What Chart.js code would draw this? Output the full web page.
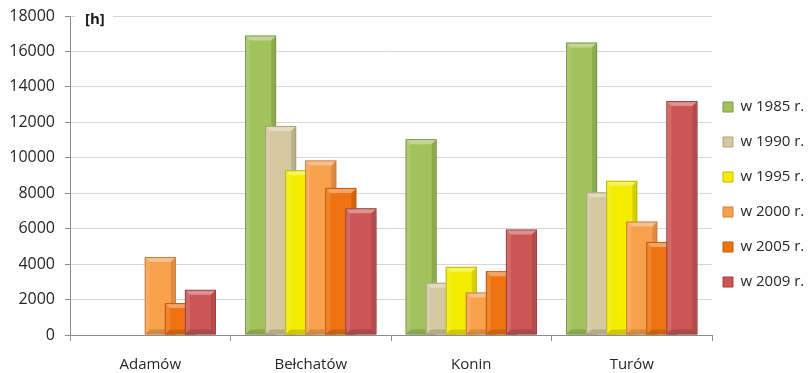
<!DOCTYPE html>
<html>
<head>
<meta charset="utf-8">
<script src="https://cdn.jsdelivr.net/npm/chart.js@4"></script>
<style>
  html, body { margin: 0; padding: 0; background: #fff; }
  #wrap { width: 812px; height: 373px; }
</style>
</head>
<body>
<div id="wrap"><canvas id="hoursChart" width="812" height="373"></canvas></div>
<script>
// mines (categories)
var mines = ['Adamów', 'Bełchatów', 'Konin', 'Turów'];
// series labels
var years = ['w 1985 r.', 'w 1990 r.', 'w 1995 r.', 'w 2000 r.', 'w 2005 r.', 'w 2009 r.'];
// hours per mine, one array per year
var y1985 = [null, 16900, 11050, 16500];
var y1990 = [null, 11800, 2950, 8050];
var y1995 = [null, 9300, 3850, 8700];
var y2000 = [4400, 9850, 2400, 6400];
var y2005 = [1800, 8300, 3600, 5250];
var y2009 = [2550, 7150, 5950, 13200];
var yTicks = [0, 2000, 4000, 6000, 8000, 10000, 12000, 14000, 16000, 18000];

var fills = ['#a2c25c', '#d3c8a0', '#f3ee00', '#f9a04c', '#ef7411', '#cc5656'];
var edges = ['#7f9a44', '#aea47c', '#c2bc00', '#d07e35', '#c05a08', '#a33f3f'];

var seriesData = [y1985, y1990, y1995, y2000, y2005, y2009];

var datasets = seriesData.map(function(vals, i) {
    return {
        label: years[i],
        data: vals,
        backgroundColor: fills[i],
        borderColor: edges[i],
        borderWidth: 1,
        categoryPercentage: 0.75,
        barPercentage: 1.55
    };
});

function drawBevel(ctx, bar, edge) {
    var b = 5;
    var p = bar.getProps(['x', 'y', 'base', 'width'], true);
    var l = p.x - p.width / 2, r = p.x + p.width / 2, t = p.y, bt = p.base;
    ctx.save();
    ctx.fillStyle = 'rgba(255,255,255,0.35)';
    ctx.beginPath();
    ctx.moveTo(l, t); ctx.lineTo(r, t); ctx.lineTo(r - b, t + b); ctx.lineTo(l + b, t + b);
    ctx.closePath(); ctx.fill();
    ctx.fillStyle = 'rgba(255,255,255,0.12)';
    ctx.beginPath();
    ctx.moveTo(l, t); ctx.lineTo(l + b, t + b); ctx.lineTo(l + b, bt - b); ctx.lineTo(l, bt);
    ctx.closePath(); ctx.fill();
    ctx.fillStyle = 'rgba(0,0,0,0.12)';
    ctx.beginPath();
    ctx.moveTo(r, t); ctx.lineTo(r - b, t + b); ctx.lineTo(r - b, bt - b); ctx.lineTo(r, bt);
    ctx.closePath(); ctx.fill();
    ctx.fillStyle = 'rgba(0,0,0,0.15)';
    ctx.beginPath();
    ctx.moveTo(l, bt); ctx.lineTo(l + b, bt - b); ctx.lineTo(r - b, bt - b); ctx.lineTo(r, bt);
    ctx.closePath(); ctx.fill();
    ctx.strokeStyle = edge;
    ctx.lineWidth = 1;
    ctx.strokeRect(l + 0.5, t + 0.5, r - l - 1, bt - t - 1);
    ctx.restore();
}

// draw datasets in index order so later years overlap earlier ones, with bevel
var bevelPlugin = {
    id: 'bevel',
    afterInit: function(chart) {
        var lg = chart.legend;
        var origFit = lg.fit;
        var origDraw = lg.draw;
        lg.fit = function() {
            origFit.call(this);
            this.width = 100;
        };
        // nudge the legend block a little left
        lg.draw = function() {
            this.left -= 9;
            origDraw.apply(this, arguments);
            this.left += 9;
        };
    },
    beforeDatasetsDraw: function(chart) {
        var ctx = chart.ctx;
        var area = chart.chartArea;
        ctx.save();
        ctx.beginPath();
        ctx.rect(area.left, area.top - 2, area.right - area.left, area.bottom - area.top + 2);
        ctx.clip();
        chart.data.datasets.forEach(function(ds, i) {
            var meta = chart.getDatasetMeta(i);
            meta.data.forEach(function(bar, j) {
                if (ds.data[j] === null) return;
                bar.draw(ctx);
                drawBevel(ctx, bar, edges[i]);
            });
        });
        ctx.restore();
        return false;
    }
};

// unit label "[h]" on top of the y axis
var unitPlugin = {
    id: 'unitLabel',
    afterDraw: function(chart) {
        var ctx = chart.ctx;
        var area = chart.chartArea;
        ctx.save();
        ctx.fillStyle = '#fff';
        ctx.fillRect(area.left + 5, area.top - 2, 38, 5);
        ctx.font = 'bold 15px "Open Sans", sans-serif';
        ctx.fillStyle = '#1a1a1a';
        ctx.textBaseline = 'middle';
        ctx.fillText('[h]', area.left + 15, area.top + 4);
        ctx.restore();
    }
};

var ctx = document.getElementById('hoursChart').getContext('2d');

var hoursChart = new Chart(ctx, {
    type: 'bar',
    data: {
        labels: mines,
        datasets: datasets
    },
    options: {
        responsive: false,
        animation: false,
        layout: { padding: { top: 16, right: 0, left: 0, bottom: 0 } },
        scales: {
            x: {
                afterFit: function(scale) { scale.height = 38; },
                grid: { drawOnChartArea: false, color: '#8c8c8c', tickLength: 6 },
                border: { color: '#8c8c8c' },
                ticks: { color: '#262626', font: { family: 'Open Sans', size: 15 }, padding: 15 }
            },
            y: {
                min: 0,
                max: 18000,
                afterBuildTicks: function(scale) {
                    scale.ticks = yTicks.map(function(v) { return { value: v }; });
                },
                afterFit: function(scale) {
                    scale.width = 70;
                    scale.paddingTop = 8;
                },
                grid: { color: '#d6d6d6', tickLength: 5, tickColor: '#8c8c8c' },
                border: { color: '#8c8c8c' },
                ticks: {
                    color: '#262626',
                    font: { family: 'Open Sans', size: 16 },
                    padding: 10,
                    callback: function(v) { return String(v); }
                }
            }
        },
        plugins: {
            legend: {
                position: 'right',
                labels: {
                    boxWidth: 10,
                    boxHeight: 10,
                    padding: 20,
                    color: '#262626',
                    font: { family: 'Open Sans', size: 15 }
                }
            },
            tooltip: { enabled: false }
        }
    },
    plugins: [bevelPlugin, unitPlugin]
});
</script>
</body>
</html>
